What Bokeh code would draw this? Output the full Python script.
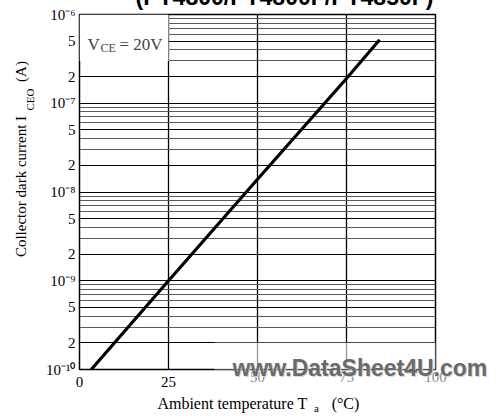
import math
from bokeh.plotting import figure
from bokeh.models import (FixedTicker, Grid, Label, BoxAnnotation, LinearAxis,
                          Range1d, LinearScale)
from bokeh.embed import file_html
from bokeh.resources import INLINE

# ---- data ----
temp_c = [3.3, 25, 50, 75, 84.3]
dark_current_a = [1.0e-10, 1.0e-9, 1.39e-8, 1.9e-7, 5.2e-7]

x_ticks = [0, 25, 50, 75, 100]
x_tick_labels = ["0", "25", "50", "75", "100"]
x_grid_lines = [25, 50, 75]

y_major_ticks = [1e-10, 2e-10, 5e-10, 1e-9, 2e-9, 5e-9, 1e-8, 2e-8, 5e-8,
                 1e-7, 2e-7, 5e-7, 1e-6]
y_major_labels = ["10\u207b\u00b9\u2070", "2", "5", "10\u207b\u2079", "2", "5",
                  "10\u207b\u2078", "2", "5", "10\u207b\u2077", "2", "5", "10\u207b\u2076"]
y_minor_lines = [3e-10, 4e-10, 6e-10, 7e-10, 8e-10, 9e-10,
                 3e-9, 4e-9, 6e-9, 7e-9, 8e-9, 9e-9,
                 3e-8, 4e-8, 6e-8, 7e-8, 8e-8, 9e-8,
                 3e-7, 4e-7, 6e-7, 7e-7, 8e-7, 9e-7]

title_text = "(PT4800/PT4800F/PT4850F)"
condition_main = "V"
condition_sub = "CE"
condition_rest = "= 20V"
x_label_main = "Ambient temperature T"
x_label_sub = "a"
x_label_unit = "(\u00b0C)"
y_label_main = "Collector dark current I"
y_label_sub = "CEO"
y_label_unit = "(A)"
watermark = "www.DataSheet4U.com"

SERIF = "Liberation Serif"
SANS = "Liberation Sans"

p = figure(width=502, height=416, x_range=(0, 100), y_range=(1e-10, 1e-6),
           y_axis_type="log", output_backend="svg", toolbar_location=None,
           min_border_left=79, min_border_right=67, min_border_top=14,
           min_border_bottom=47, background_fill_color="white",
           border_fill_color="white")
# helper pixel ranges used only to place text pieces next to the frame
p.extra_x_ranges = {"px": Range1d(79, 435)}   # canvas x
p.extra_x_scales = {"px": LinearScale()}
p.extra_y_ranges = {"h": Range1d(0, 355)}     # pixels above the frame bottom
p.extra_y_scales = {"h": LinearScale()}

p.outline_line_color = "black"
p.outline_line_width = 1.5

xaxis_main = p.xaxis[0]
yaxis_main = p.yaxis[0]


def bare(ax):
    ax.axis_line_color = None
    ax.major_tick_line_color = None
    ax.minor_tick_line_color = None
    ax.major_tick_out = 0
    ax.major_tick_in = 0
    ax.minor_tick_out = 0
    ax.minor_tick_in = 0
    return ax


# main axes
bare(xaxis_main)
xaxis_main.ticker = FixedTicker(ticks=x_ticks[:2])
xaxis_main.major_label_overrides = dict(zip(x_ticks[:2], x_tick_labels[:2]))
xaxis_main.major_label_text_font = SERIF
xaxis_main.major_label_text_font_size = "15px"
xaxis_main.major_label_text_color = "black"
xaxis_main.major_label_standoff = 7

bare(yaxis_main)
yaxis_main.ticker = FixedTicker(ticks=y_major_ticks)
yaxis_main.major_label_overrides = dict(zip(y_major_ticks, y_major_labels))
yaxis_main.major_label_text_font = SERIF
yaxis_main.major_label_text_font_size = "15px"
yaxis_main.major_label_text_color = "black"
yaxis_main.major_label_standoff = 4

# tick labels under the faded watermark area (same row as 0 and 25)
x_faded = bare(LinearAxis(ticker=FixedTicker(ticks=x_ticks[2:]),
                          major_label_overrides=dict(zip(x_ticks[2:], x_tick_labels[2:])),
                          major_label_text_font=SERIF, major_label_text_font_size="15px",
                          major_label_text_color="#8c8c8c", major_label_standoff=-18))
p.add_layout(x_faded, "below")

# x axis title pieces
x_title_axis = bare(LinearAxis(x_range_name="px", ticker=FixedTicker(ticks=[232, 345]),
                               major_label_overrides={232: x_label_main, 345: x_label_unit},
                               major_label_text_font=SERIF, major_label_text_font_size="16px",
                               major_label_text_color="black", major_label_standoff=5))
p.add_layout(x_title_axis, "below")
x_sub_axis = bare(LinearAxis(x_range_name="px", ticker=FixedTicker(ticks=[316]),
                             major_label_overrides={316: x_label_sub},
                             major_label_text_font=SERIF, major_label_text_font_size="11px",
                             major_label_text_color="black", major_label_standoff=-13))
p.add_layout(x_sub_axis, "below")

# title, cut off by the top edge of the page (pulled up from the bottom panel)
title_axis = bare(LinearAxis(x_range_name="px", ticker=FixedTicker(ticks=[284]),
                             major_label_overrides={284: title_text},
                             major_label_text_font=SANS, major_label_text_font_style="bold",
                             major_label_text_font_size="23px",
                             major_label_text_color="black", major_label_standoff=-433))
p.add_layout(title_axis, "below")

# y axis title pieces
y_sub_axis = bare(LinearAxis(y_range_name="h", ticker=FixedTicker(ticks=[270]),
                             major_label_overrides={270: y_label_sub},
                             major_label_orientation="parallel",
                             major_label_text_font=SERIF, major_label_text_font_size="11px",
                             major_label_text_color="black", major_label_standoff=8))
p.add_layout(y_sub_axis, "left")
y_title_axis = bare(LinearAxis(y_range_name="h", ticker=FixedTicker(ticks=[183, 298]),
                               major_label_overrides={183: y_label_main, 298: y_label_unit},
                               major_label_orientation="parallel",
                               major_label_text_font=SERIF, major_label_text_font_size="15px",
                               major_label_text_color="black", major_label_standoff=-8))
p.add_layout(y_title_axis, "left")

# watermark, placed from the right side
wm_shadow = bare(LinearAxis(y_range_name="h", ticker=FixedTicker(ticks=[1]),
                            major_label_overrides={1: watermark},
                            major_label_text_font=SANS, major_label_text_font_style="bold",
                            major_label_text_font_size="23px",
                            major_label_text_color="#d4d4d4", major_label_standoff=-202))
p.add_layout(wm_shadow, "right")
wm_axis = bare(LinearAxis(y_range_name="h", ticker=FixedTicker(ticks=[2]),
                          major_label_overrides={2: watermark},
                          major_label_text_font=SANS, major_label_text_font_style="bold",
                          major_label_text_font_size="23px",
                          major_label_text_color="#6a6a6a", major_label_standoff=-259))
p.add_layout(wm_axis, "right")

# grids
p.xgrid.ticker = FixedTicker(ticks=x_grid_lines)
p.xgrid.grid_line_color = "black"
p.xgrid.grid_line_width = 1.3
p.ygrid.ticker = FixedTicker(ticks=y_major_ticks)
p.ygrid.grid_line_color = "black"
p.ygrid.grid_line_width = 1.2
minor_grid = Grid(dimension=1, ticker=FixedTicker(ticks=y_minor_lines),
                  grid_line_color="#5a5a5a", grid_line_width=1.2)
p.add_layout(minor_grid)

# white box that holds the condition text
p.quad(left=[0], right=[25], bottom=[3e-7], top=[1e-6],
       fill_color="white", line_color=None)

# data line
p.line(temp_c, dark_current_a, line_color="black", line_width=3.2)

# faded watermark area inside the frame
p.add_layout(BoxAnnotation(left=214, right=502, top=342, bottom=398,
                           left_units="canvas", right_units="canvas",
                           top_units="canvas", bottom_units="canvas",
                           fill_color="white", fill_alpha=0.6, line_color=None,
                           level="glyph"))

# condition text
p.add_layout(Label(x=87, y=44, x_units="canvas", y_units="canvas", text=condition_main,
                   text_font=SERIF, text_font_size="17px", text_baseline="alphabetic"))
p.add_layout(Label(x=100, y=47, x_units="canvas", y_units="canvas", text=condition_sub,
                   text_font=SERIF, text_font_size="12px", text_baseline="alphabetic"))
p.add_layout(Label(x=119, y=44, x_units="canvas", y_units="canvas", text=condition_rest,
                   text_font=SERIF, text_font_size="17px", text_baseline="alphabetic"))

open("out.html", "w").write(file_html(p, INLINE))
